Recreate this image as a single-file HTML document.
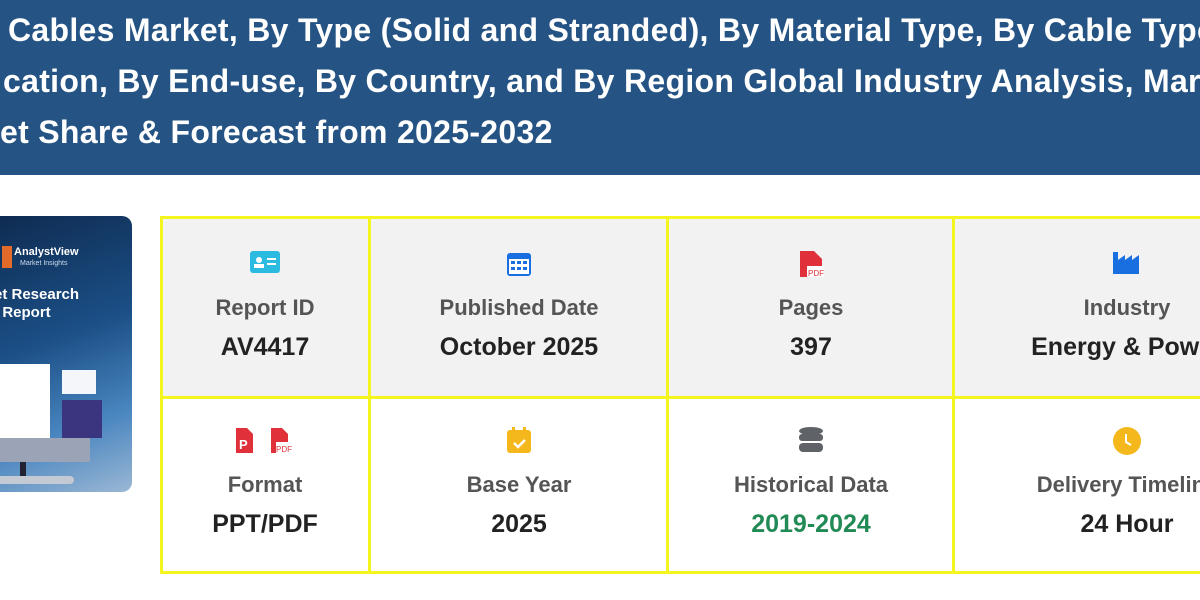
<!DOCTYPE html>
<html><head><meta charset="utf-8"><style>
*{margin:0;padding:0;box-sizing:border-box}
body{width:1200px;height:600px;overflow:hidden;background:#fff;font-family:"Liberation Sans",sans-serif;position:relative}
.hdr{position:absolute;left:0;top:0;width:1200px;height:175px;background:#245384;overflow:hidden}
.hdr div{position:absolute;color:#fff;font-weight:bold;font-size:32px;white-space:nowrap;letter-spacing:0.3px}
.img{position:absolute;left:-20px;top:216px;width:152px;height:276px;border-radius:10px;overflow:hidden;background:linear-gradient(160deg,#0e2a4f 0%,#1b4f86 45%,#4a86c0 75%,#9ab7d4 100%)}
.grid{position:absolute;left:160px;top:216px;width:1160px;height:358px;border:3px solid #f4f41e;overflow:hidden}
.cell{position:absolute;text-align:center}
.top{top:0;height:177px;background:#f2f2f2}
.bot{top:180px;height:175px;background:#fff}
.lab{position:absolute;left:-50px;right:-50px;top:76px;font-size:22px;font-weight:bold;color:#555;white-space:nowrap}
.bot .lab{top:73px}
.val{position:absolute;left:-50px;right:-50px;top:114px;font-size:25px;font-weight:bold;color:#222;white-space:nowrap}
.bot .val{top:111px}
.ic{position:absolute;left:50%;top:30px;transform:translateX(-50%)}
.bot .ic{top:27px}
.vl{position:absolute;top:0;width:3px;height:360px;background:#f4f41e}
.hl{position:absolute;left:0;top:177px;width:1200px;height:3px;background:#f4f41e}
</style></head><body>
<div class="hdr">
<div style="left:8px;top:12px">Cables Market, By Type (Solid and Stranded), By Material Type, By Cable Type, By</div>
<div style="left:3px;top:63px">cation, By End-use, By Country, and By Region Global Industry Analysis, Market Size,</div>
<div style="left:0px;top:114px">et Share &amp; Forecast from 2025-2032</div>
</div>
<div class="img">
<div style="position:absolute;left:22px;top:30px;width:10px;height:22px;background:#e46a2a"></div>
<div style="position:absolute;left:34px;top:30px;color:#fff;font-size:11px;font-weight:bold">AnalystView</div>
<div style="position:absolute;left:40px;top:44px;color:#cde;font-size:7px">Market Insights</div>
<div style="position:absolute;left:14px;top:70px;color:#fff;font-size:15px;font-weight:bold;line-height:18px">et Research<br>&nbsp;&nbsp;Report</div>
<div style="position:absolute;left:10px;top:148px;width:60px;height:75px;background:#fff"></div>
<div style="position:absolute;left:82px;top:154px;width:34px;height:24px;background:#f4f6fa"></div>
<div style="position:absolute;left:82px;top:184px;width:40px;height:38px;background:#3b3580"></div>
<div style="position:absolute;left:10px;top:222px;width:100px;height:24px;background:#9aa4b6"></div>
<div style="position:absolute;left:40px;top:246px;width:6px;height:14px;background:#223"></div>
<div style="position:absolute;left:14px;top:260px;width:80px;height:8px;border-radius:4px;background:#c4cad4"></div>
</div>
<div class="grid">
<div class="cell top" style="left:0;width:1200px"></div>
<div class="cell top" style="left:0;width:204px;background:none"><svg class="ic" width="32" height="26"><rect x="1" y="2" width="30" height="22" rx="3" fill="#2bbbe0"/><circle cx="10" cy="11" r="3" fill="#fff"/><rect x="5" y="15" width="10" height="4" fill="#fff"/><rect x="18" y="9" width="9" height="2" fill="#fff"/><rect x="18" y="14" width="9" height="2" fill="#fff"/></svg><div class="lab">Report ID</div><div class="val">AV4417</div></div>
<div class="cell top" style="left:210px;width:292px;background:none"><svg class="ic" width="26" height="28"><rect x="1" y="4" width="24" height="23" rx="3" fill="#1a6fe0"/><rect x="3" y="10" width="20" height="15" fill="#fff"/><g fill="#1a6fe0"><rect x="5" y="12" width="4" height="3"/><rect x="11" y="12" width="4" height="3"/><rect x="17" y="12" width="4" height="3"/><rect x="5" y="18" width="4" height="3"/><rect x="11" y="18" width="4" height="3"/><rect x="17" y="18" width="4" height="3"/></g></svg><div class="lab">Published Date</div><div class="val">October 2025</div></div>
<div class="cell top" style="left:508px;width:280px;background:none"><svg class="ic" width="26" height="30"><path d="M2 2h14l8 8v18H2z" fill="#e0303a"/><rect x="9" y="17" width="17" height="11" fill="#fff"/><text x="10" y="27" font-size="8" fill="#e0303a" font-family="Liberation Sans">PDF</text></svg><div class="lab">Pages</div><div class="val">397</div></div>
<div class="cell top" style="left:794px;width:340px;background:none"><svg class="ic" width="30" height="26"><path d="M1 25V3h5v8l7-5v5l7-5v5l7-5v19z" fill="#1a6fe0"/></svg><div class="lab">Industry</div><div class="val">Energy &amp; Power</div></div>
<div class="cell bot" style="left:0;width:204px"><svg class="ic" width="62" height="28"><path d="M2 2h11l6 6v19H2z" fill="#e0303a"/><text x="5" y="23" font-size="13" font-weight="bold" fill="#fff" font-family="Liberation Sans">P</text><path d="M37 2h11l6 6v19H37z" fill="#e0303a"/><rect x="42" y="16" width="18" height="11" fill="#fff"/><text x="42" y="26" font-size="8" fill="#e0303a" font-family="Liberation Sans">PDF</text></svg><div class="lab">Format</div><div class="val">PPT/PDF</div></div>
<div class="cell bot" style="left:210px;width:292px"><svg class="ic" width="26" height="28"><rect x="1" y="4" width="24" height="23" rx="3" fill="#f5b81c"/><rect x="6" y="1" width="3" height="6" fill="#f5b81c"/><rect x="17" y="1" width="3" height="6" fill="#f5b81c"/><path d="M8 17l4 4 7-7" stroke="#fff" stroke-width="2.5" fill="none"/></svg><div class="lab">Base Year</div><div class="val">2025</div></div>
<div class="cell bot" style="left:508px;width:280px"><svg class="ic" width="26" height="28"><ellipse cx="13" cy="5" rx="12" ry="4" fill="#5f6368"/><rect x="1" y="8" width="24" height="7" rx="3" fill="#5f6368"/><rect x="1" y="17" width="24" height="9" rx="4" fill="#5f6368"/></svg><div class="lab">Historical Data</div><div class="val" style="color:#228a55">2019-2024</div></div>
<div class="cell bot" style="left:794px;width:340px"><svg class="ic" width="30" height="30"><circle cx="15" cy="15" r="14" fill="#f5b81c"/><path d="M14 8v8l5 3" stroke="#fff" stroke-width="2" fill="none"/></svg><div class="lab">Delivery Timeline</div><div class="val">24 Hour</div></div>
<div class="hl"></div>
<div class="vl" style="left:205px"></div>
<div class="vl" style="left:503px"></div>
<div class="vl" style="left:789px"></div>
</div>
</body></html>
